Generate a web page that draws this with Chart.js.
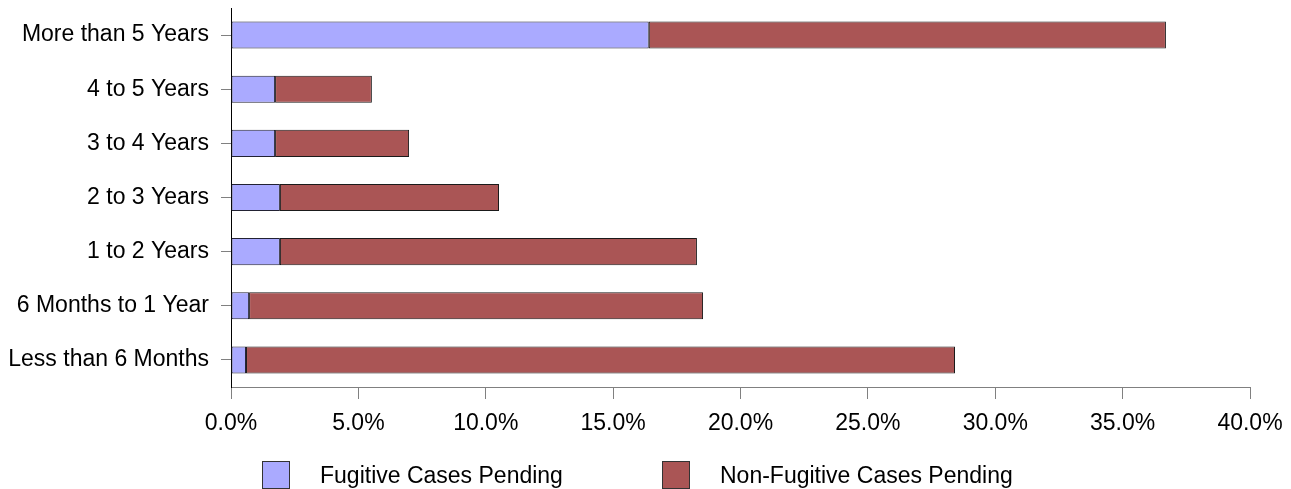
<!DOCTYPE html>
<html>
<head>
<meta charset="utf-8">
<script src="https://cdn.jsdelivr.net/npm/chart.js@4"></script>
<style>
  html, body { margin: 0; padding: 0; background: #fff; }
  canvas { display: block; }
</style>
</head>
<body>
<canvas id="myChart" width="1291" height="489"></canvas>
<script>
const categories = [
  'More than 5 Years',
  '4 to 5 Years',
  '3 to 4 Years',
  '2 to 3 Years',
  '1 to 2 Years',
  '6 Months to 1 Year',
  'Less than 6 Months'
];
const fugitive = [16.4, 1.73, 1.73, 1.92, 1.92, 0.71, 0.59];
const nonFugitive = [20.3, 3.8, 5.26, 8.6, 16.37, 17.82, 27.83];
const seriesNames = ['Fugitive Cases Pending', 'Non-Fugitive Cases Pending'];
const xTicks = [0, 5, 10, 15, 20, 25, 30, 35, 40];

const font = { family: 'Liberation Sans, Arial, sans-serif', size: 23 };

// legend drawn by hand so box/text gaps match the original
const bottomLegend = {
    id: 'bottomLegend',
    afterDraw(chart) {
        const ctx = chart.ctx;
        const spots = [262, 662];
        ctx.save();
        chart.data.datasets.forEach((ds, i) => {
            const x = spots[i];
            ctx.fillStyle = ds.backgroundColor;
            ctx.fillRect(x, 461, 28, 28);
            ctx.strokeStyle = '#333';
            ctx.lineWidth = 1;
            ctx.strokeRect(x + 0.5, 461.5, 27, 27);
            ctx.fillStyle = '#000';
            ctx.font = font.size + 'px ' + font.family;
            ctx.textBaseline = 'middle';
            ctx.textAlign = 'left';
            ctx.fillText(ds.label, x + 58, 477);
        });
        ctx.restore();
    }
};

const ctx = document.getElementById('myChart').getContext('2d');
const myChart = new Chart(ctx, {
    type: 'bar',
    data: {
        labels: categories,
        datasets: [
            {
                label: seriesNames[0],
                data: fugitive,
                backgroundColor: '#aaaaff',
                borderColor: '#222233',
                borderWidth: 1,
                borderSkipped: false,
                categoryPercentage: 1,
                barPercentage: 0.5
            },
            {
                label: seriesNames[1],
                data: nonFugitive,
                backgroundColor: '#aa5555',
                borderColor: '#1a1a1a',
                borderWidth: 1,
                borderSkipped: false,
                categoryPercentage: 1,
                barPercentage: 0.5
            }
        ]
    },
    options: {
        indexAxis: 'y',
        responsive: false,
        animation: false,
        layout: { padding: { top: 8, right: 41, bottom: 0, left: 0 } },
        plugins: {
            legend: { display: false },
            tooltip: { enabled: false }
        },
        scales: {
            x: {
                stacked: true,
                min: 0,
                max: 40,
                afterBuildTicks: scale => { scale.ticks = xTicks.map(v => ({ value: v })); },
                afterFit: scale => {
                    scale.height = 102;
                    scale.paddingLeft = 0;
                    scale.paddingRight = 0;
                },
                ticks: {
                    color: '#000',
                    font: font,
                    padding: 11,
                    maxRotation: 0,
                    callback: v => v.toFixed(1) + '%'
                },
                grid: { drawOnChartArea: false, tickLength: 12, color: '#808080' },
                border: { color: '#808080' }
            },
            y: {
                stacked: true,
                afterFit: scale => {
                    scale.width = 231;
                    scale.paddingTop = 0;
                    scale.paddingBottom = 0;
                },
                ticks: { color: '#000', font: font, padding: 12 },
                grid: { drawOnChartArea: false, tickLength: 10, color: '#808080', offset: false },
                border: { color: '#000' }
            }
        }
    },
    plugins: [bottomLegend]
});
</script>
</body>
</html>
